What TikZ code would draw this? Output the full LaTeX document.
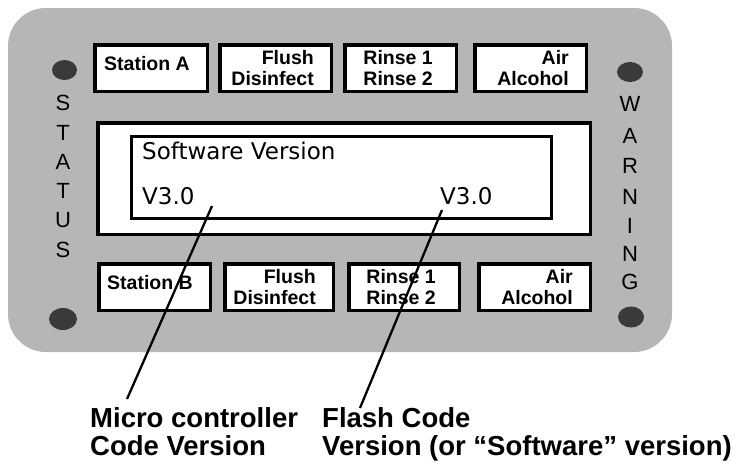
\documentclass[tikz,border=0pt]{standalone}
\usepackage{fontspec}
\setmainfont{Liberation Sans}
\newfontfamily\dispfont{DejaVu Sans}
\definecolor{panelgray}{RGB}{182,182,182}
\definecolor{ledgray}{RGB}{58,58,58}
\begin{document}
\begin{tikzpicture}[x=1pt,y=-1pt,
  btn/.style={draw=black, line width=3.5pt, fill=white, minimum height=46.5pt, inner sep=0pt},
  btnlbl/.style={anchor=east, inner sep=0pt, align=right, font=\fontsize{19.5}{21}\selectfont\bfseries},
  ltr/.style={inner sep=0pt, font=\fontsize{22}{24}\selectfont},
  disp/.style={anchor=base west, inner sep=0pt, font=\dispfont\fontsize{23}{26}\selectfont},
  callout/.style={anchor=base west, inner sep=0pt, font=\fontsize{27.5}{28.5}\selectfont\bfseries},
  pointer/.style={draw=black, line width=2.3pt},
  led/.style={fill=ledgray}]
\useasboundingbox (0,0) rectangle (739,464);
% panel
\fill[panelgray, rounded corners=38pt] (8,8) rectangle (672,352);
% LEDs
\fill[led] (64.5,70) ellipse [x radius=12.5pt, y radius=10pt];
\fill[led] (630,72) ellipse [x radius=13pt, y radius=10pt];
\fill[led] (63,319) ellipse [x radius=14pt, y radius=11pt];
\fill[led] (631,317) ellipse [x radius=13pt, y radius=10.5pt];
% STATUS / WARNING
\foreach \l/\yy [count=\i] in {S/103,T/132.5,A/162,T/191,U/220.5,S/250}
  \node[ltr] (st\i) at (63,\yy) {\l};
\foreach \l/\yy [count=\i] in {W/104,A/136,R/166,N/197,I/226,N/254,G/282}
  \node[ltr] (wa\i) at (630,\yy) {\l};
% display
\node[draw=black, line width=3.5pt, fill=white, minimum width=492.5pt, minimum height=111.5pt, inner sep=0pt] (outer) at (344,178.5) {};
\node[draw=black, line width=3pt, fill=white, minimum width=420pt, minimum height=82pt, inner sep=0pt] (inner) at (341.5,177.5) {};
\node[disp] (sw) at (142,159) {Software Version};
\node[disp] (v1) at (142,204) {V3.0};
\node[disp] (v2) at (440,204) {V3.0};
% top buttons
\node[btn, minimum width=112.5pt] (ta) at (151,68) {};
\node[btn, minimum width=111.5pt] (tb) at (275.5,68) {};
\node[btn, minimum width=111.5pt] (tc) at (400.5,68) {};
\node[btn, minimum width=111.5pt] (td) at (530.5,68) {};
\node[btnlbl, yshift=4pt] (taL) at ([xshift=-19pt]ta.east) {Station A};
\node[btnlbl] (tbL) at ([xshift=-19pt]tb.east) {Flush\\Disinfect};
\node[btnlbl] (tcL) at ([xshift=-25pt]tc.east) {Rinse 1\\Rinse 2};
\node[btnlbl] (tdL) at ([xshift=-19pt]td.east) {Air\\Alcohol};
% bottom buttons
\node[btn, minimum width=111.5pt] (ba) at (154.5,287) {};
\node[btn, minimum width=108.5pt] (bb) at (279,287) {};
\node[btn, minimum width=110.5pt] (bc) at (404,287) {};
\node[btn, minimum width=111.5pt] (bd) at (534.5,287) {};
\node[btnlbl, yshift=4pt] (baL) at ([xshift=-19pt]ba.east) {Station B};
\node[btnlbl] (bbL) at ([xshift=-19pt]bb.east) {Flush\\Disinfect};
\node[btnlbl] (bcL) at ([xshift=-25pt]bc.east) {Rinse 1\\Rinse 2};
\node[btnlbl] (bdL) at ([xshift=-19pt]bd.east) {Air\\Alcohol};
% callout labels
\node[callout] (mc1) at (90,427) {Micro controller};
\node[callout] (mc2) at (90,455) {Code Version};
\node[callout] (fc1) at (322,427) {Flash Code};
\node[callout] (fc2) at (322,455) {Version (or “Software” version)};
% pointers
\coordinate (p1a) at (212,206);
\coordinate (p1b) at (127,399);
\coordinate (p2a) at (442,210);
\coordinate (p2b) at (360,408);
\draw[pointer] (p1a) -- (p1b);
\draw[pointer] (p2a) -- (p2b);
\end{tikzpicture}
\end{document}
